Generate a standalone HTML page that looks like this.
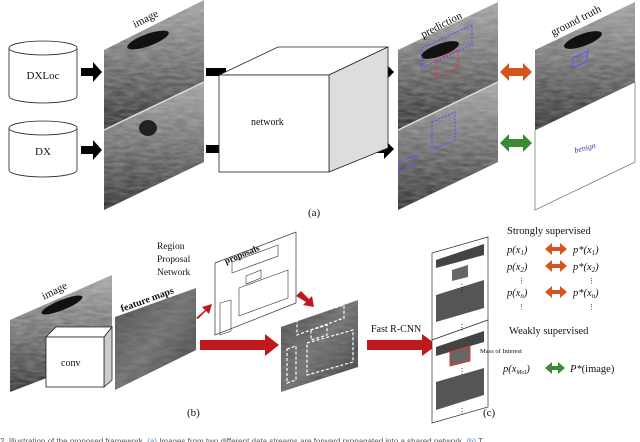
<!DOCTYPE html>
<html><head><meta charset="utf-8"><style>
body{margin:0;background:#fff;width:640px;height:442px;overflow:hidden}
svg{display:block}
text{font-family:"Liberation Serif",serif;fill:#111}
</style></head><body>
<svg width="640" height="442" viewBox="0 0 640 442" xmlns="http://www.w3.org/2000/svg">
<defs>
<linearGradient id="us" x1="0" y1="0" x2="0" y2="1">
<stop offset="0" stop-color="#9a9a9a"/><stop offset="0.45" stop-color="#6a6a6a"/><stop offset="1" stop-color="#222"/></linearGradient>
<linearGradient id="fm" x1="0" y1="0" x2="1" y2="1">
<stop offset="0" stop-color="#444"/><stop offset="0.5" stop-color="#6a6a6a"/><stop offset="1" stop-color="#333"/></linearGradient>
<filter id="tx"><feTurbulence type="fractalNoise" baseFrequency="0.08 0.3" numOctaves="2" seed="3"/><feColorMatrix values="0 0 0 0 1 0 0 0 0 1 0 0 0 0 1 0 0 0 0.6 0"/><feComposite in2="SourceGraphic" operator="in"/></filter>
</defs>

<g fill="#fff" stroke="#222" stroke-width="0.8">
<path d="M9,48 v48 a34,7 0 0 0 68,0 v-48"/><ellipse cx="43" cy="48" rx="34" ry="7"/>
<path d="M9,128 v42 a34,7 0 0 0 68,0 v-42"/><ellipse cx="43" cy="128" rx="34" ry="7"/>
</g>
<text x="43" y="79" font-size="11" text-anchor="middle">DXLoc</text>
<text x="43" y="155" font-size="11" text-anchor="middle">DX</text>

<g fill="#000">
<path d="M81,68h12v-6l9,10l-9,10v-6h-12z"/>
<path d="M81,146h12v-6l9,10l-9,10v-6h-12z"/>
<rect x="206" y="68" width="20" height="8"/><rect x="206" y="145" width="20" height="8"/>
<path d="M367,68h17v-6l10,10l-10,10v-6h-17z"/>
<path d="M367,145h17v-6l10,10l-10,10v-6h-17z"/>
</g>

<polygon points="104,50 204,0 204,82 104,130" fill="url(#us)"/>
<polygon points="104,130 204,82 204,162 104,210" fill="url(#us)"/>
<polygon points="104,50 204,0 204,162 104,210" fill="#fff" filter="url(#tx)" opacity="0.55"/>
<ellipse cx="148" cy="40" rx="22" ry="6" fill="#111" transform="rotate(-20 148 40)"/>
<ellipse cx="148" cy="128" rx="9" ry="8" fill="#222"/>
<line x1="104" y1="130" x2="204" y2="82" stroke="#ddd" stroke-width="1.5"/>
<text font-size="11" transform="translate(135,28) rotate(-27)">image</text>

<polygon points="219,75 278,47 388,47 329,75" fill="#fff" stroke="#222" stroke-width="0.8"/>
<polygon points="329,75 388,47 388,148 329,172" fill="#ddd" stroke="#222" stroke-width="0.8"/>
<rect x="219" y="75" width="110" height="97" fill="#fff" stroke="#222" stroke-width="0.8"/>
<text x="251" y="125" font-size="10">network</text>

<polygon points="398,50 498,2 498,82 398,130" fill="url(#us)"/>
<polygon points="398,130 498,82 498,162 398,210" fill="url(#us)"/>
<polygon points="398,50 498,2 498,162 398,210" fill="#fff" filter="url(#tx)" opacity="0.55"/>
<ellipse cx="440" cy="50" rx="20" ry="6" fill="#111" transform="rotate(-20 440 50)"/>
<line x1="398" y1="130" x2="498" y2="82" stroke="#ddd" stroke-width="1.5"/>
<g fill="none" stroke-dasharray="2,1.5" stroke-width="1.2">
<polygon points="422,48 472,25 472,45 422,68" stroke="#55f"/>
<polygon points="436,60 458,50 458,68 436,78" stroke="#e33"/>
<polygon points="432,122 455,112 455,140 432,150" stroke="#55f"/>
<polygon points="399,162 416,155 416,164 399,172" stroke="#55f"/>
</g>
<text font-size="11" transform="translate(423,38) rotate(-27)">prediction</text>

<path d="M500,72l9,-9v5h14v-5l9,9l-9,9v-5h-14v5z" fill="#d4561f"/>
<path d="M500,143l9,-9v5h14v-5l9,9l-9,9v-5h-14v5z" fill="#3c8a35"/>

<polygon points="535,50 635,2 635,82 535,130" fill="url(#us)"/>
<polygon points="535,50 635,2 635,82 535,130" fill="#fff" filter="url(#tx)" opacity="0.55"/>
<ellipse cx="583" cy="40" rx="20" ry="6" fill="#111" transform="rotate(-20 583 40)"/>
<polygon points="573,58 588,51 586,62 572,68" fill="none" stroke="#55f" stroke-width="1"/>
<polygon points="535,130 635,82 635,162 535,210" fill="#fff" stroke="#555" stroke-width="0.6"/>
<text font-size="8" font-style="italic" transform="translate(575,153) rotate(-14)" style="fill:#3a3a9a">benign</text>
<text font-size="11" transform="translate(553,36) rotate(-27)">ground truth</text>

<text x="308" y="216" font-size="11">(a)</text>

<polygon points="10,320 112,275 112,353 10,392" fill="url(#us)"/>
<polygon points="10,320 112,275 112,353 10,392" fill="#fff" filter="url(#tx)" opacity="0.6"/>
<ellipse cx="62" cy="305" rx="22" ry="5" fill="#111" transform="rotate(-22 62 305)"/>
<text font-size="11" transform="translate(44,300) rotate(-27)">image</text>
<polygon points="46,337 56,327 112,327 104,337" fill="#fff" stroke="#222" stroke-width="0.8"/>
<polygon points="104,337 112,327 112,380 104,387" fill="#ccc" stroke="#222" stroke-width="0.8"/>
<rect x="46" y="337" width="58" height="50" fill="#fff" stroke="#222" stroke-width="0.8"/>
<text x="61" y="366" font-size="10">conv</text>
<polygon points="115,317 196,288 196,350 115,390" fill="url(#fm)"/>
<polygon points="115,317 196,288 196,350 115,390" fill="#fff" filter="url(#tx)" opacity="0.3"/>
<text font-size="10" font-weight="bold" transform="translate(122,312) rotate(-20)">feature maps</text>
<text x="157" y="249" font-size="9.5">Region</text>
<text x="157" y="262" font-size="9.5">Proposal</text>
<text x="157" y="275" font-size="9.5">Network</text>
<polygon points="215,263 296,232 296,303 215,335" fill="#fff" stroke="#333" stroke-width="0.7"/>
<g fill="none" stroke="#333" stroke-width="0.6">
<polygon points="232,262 278,245 278,256 232,273"/>
<polygon points="246,276 261,270 261,278 246,284"/>
<polygon points="239,288 288,270 288,298 239,316"/>
<polygon points="220,303 231,300 231,331 220,335"/>
</g>
<text font-size="9" font-weight="bold" transform="translate(226,264) rotate(-22)">proposals</text>
<g fill="#c0191d">
<path d="M196,318l9,-8l-3,-3l10,-3l-3,10l-3,-3l-8,8z"/>
<path d="M296,296l5,-5l8,8l3,-3l2,11l-11,-2l3,-3z"/>
<path d="M200,340h65v-6l14,11l-14,11v-6h-65z"/>
<path d="M367,340h55v-6l15,11l-15,11v-6h-55z"/>
</g>
<polygon points="281,327 358,300 358,367 281,392" fill="url(#fm)"/>
<polygon points="281,327 358,300 358,367 281,392" fill="#fff" filter="url(#tx)" opacity="0.3"/>
<g fill="none" stroke="#fff" stroke-dasharray="3,2" stroke-width="1.2">
<polygon points="297,320 344,305 344,318 297,335"/>
<polygon points="311,330 327,325 327,335 311,340"/>
<polygon points="307,343 353,330 353,362 307,375"/>
<polygon points="287,349 296,346 296,380 287,383"/>
</g>
<text x="371" y="332" font-size="10">Fast R-CNN</text>
<text x="187" y="416" font-size="11">(b)</text>

<polygon points="432,253 488,237 488,320 432,340" fill="#fff" stroke="#333" stroke-width="0.7"/>
<polygon points="436,260 484,244 484,255 436,268" fill="#444"/>
<polygon points="452,270 468,265 468,277 452,281" fill="#666"/>
<polygon points="436,295 484,280 484,308 436,322" fill="#555"/>
<polygon points="432,340 488,320 488,407 432,423" fill="#fff" stroke="#333" stroke-width="0.7"/>
<polygon points="436,347 484,331 484,342 436,356" fill="#444"/>
<polygon points="450,352 470,346 470,361 450,366" fill="#666" stroke="#e33" stroke-width="1"/>
<polygon points="436,382 484,368 484,395 436,410" fill="#555"/>
<g fill="#222" font-size="8"><text x="458" y="290">⋮</text><text x="458" y="330">⋮</text><text x="458" y="374">⋮</text><text x="458" y="414">⋮</text></g>
<text x="480" y="353" font-size="6.5">Mass of Interest</text>
<text x="483" y="416" font-size="11">(c)</text>

<g font-size="10.5">
<text x="507" y="234">Strongly supervised</text>
<text x="507" y="253" font-style="italic">p(x<tspan font-size="7" dy="2">1</tspan><tspan dy="-2">)</tspan></text>
<text x="573" y="253" font-style="italic">p*(x<tspan font-size="7" dy="2">1</tspan><tspan dy="-2">)</tspan></text>
<text x="507" y="270" font-style="italic">p(x<tspan font-size="7" dy="2">2</tspan><tspan dy="-2">)</tspan></text>
<text x="573" y="270" font-style="italic">p*(x<tspan font-size="7" dy="2">2</tspan><tspan dy="-2">)</tspan></text>
<text x="518" y="283" font-size="7">⋮</text><text x="588" y="283" font-size="7">⋮</text>
<text x="507" y="296" font-style="italic">p(x<tspan font-size="7" dy="2">n</tspan><tspan dy="-2">)</tspan></text>
<text x="573" y="296" font-style="italic">p*(x<tspan font-size="7" dy="2">n</tspan><tspan dy="-2">)</tspan></text>
<text x="518" y="309" font-size="7">⋮</text><text x="588" y="309" font-size="7">⋮</text>
<text x="509" y="334">Weakly supervised</text>
<text x="503" y="372" font-style="italic">p(x<tspan font-size="6" dy="2">MoI</tspan><tspan dy="-2">)</tspan></text>
<text x="570" y="372"><tspan font-style="italic">P*</tspan>(image)</text>
</g>
<g fill="#d4561f">
<path d="M545,249l7,-6v4h8v-4l7,6l-7,6v-4h-8v4z"/>
<path d="M545,266l7,-6v4h8v-4l7,6l-7,6v-4h-8v4z"/>
<path d="M545,292l7,-6v4h8v-4l7,6l-7,6v-4h-8v4z"/>
</g>
<path d="M545,368l7,-6v4h6v-4l7,6l-7,6v-4h-6v4z" fill="#3c8a35"/>

<text x="0" y="444" font-size="8" style="fill:#555;font-family:'Liberation Sans',sans-serif">2.  Illustration of the proposed framework. <tspan style="fill:#4a8ad0">(a)</tspan> Images from two different data streams are forward propagated into a shared network. <tspan style="fill:#4a8ad0">(b)</tspan> T</text>
</svg>
</body></html>
